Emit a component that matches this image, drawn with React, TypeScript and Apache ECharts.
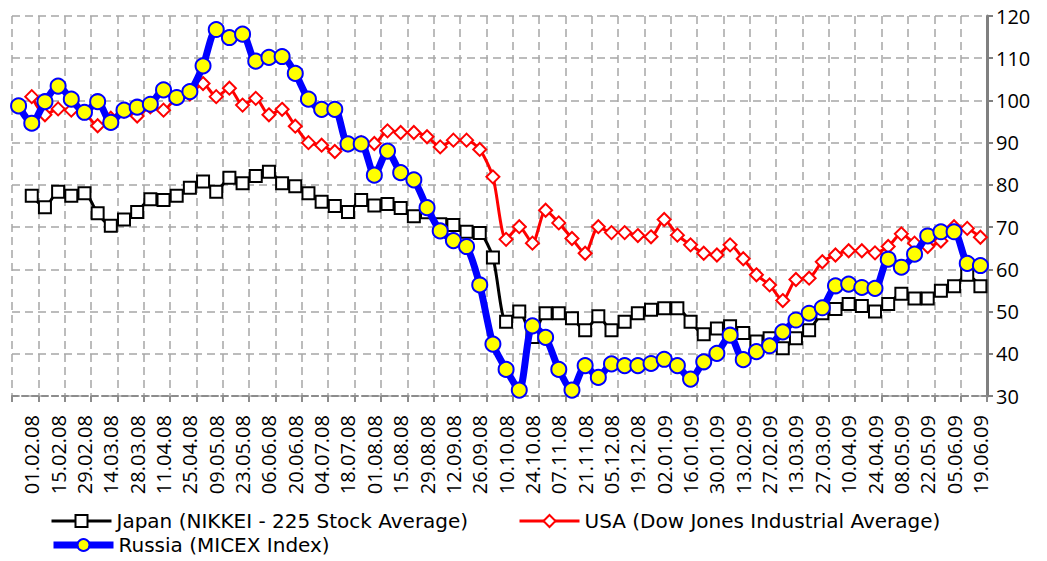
import React, { useEffect, useRef } from "react";
import * as echarts from "echarts";

const categories = [
  "25.01.08", "01.02.08", "08.02.08", "15.02.08", "22.02.08", "29.02.08", "07.03.08", "14.03.08", "21.03.08", "28.03.08",
  "04.04.08", "11.04.08", "18.04.08", "25.04.08", "02.05.08", "09.05.08", "16.05.08", "23.05.08", "30.05.08", "06.06.08",
  "13.06.08", "20.06.08", "27.06.08", "04.07.08", "11.07.08", "18.07.08", "25.07.08", "01.08.08", "08.08.08", "15.08.08",
  "22.08.08", "29.08.08", "05.09.08", "12.09.08", "19.09.08", "26.09.08", "03.10.08", "10.10.08", "17.10.08", "24.10.08",
  "31.10.08", "07.11.08", "14.11.08", "21.11.08", "28.11.08", "05.12.08", "12.12.08", "19.12.08", "26.12.08", "02.01.09",
  "09.01.09", "16.01.09", "23.01.09", "30.01.09", "06.02.09", "13.02.09", "20.02.09", "27.02.09", "06.03.09", "13.03.09",
  "20.03.09", "27.03.09", "03.04.09", "10.04.09", "17.04.09", "24.04.09", "01.05.09", "08.05.09", "15.05.09", "22.05.09",
  "29.05.09", "05.06.09", "12.06.09", "19.06.09",
];

const japan = [
  null, 77.4, 74.7, 78.4, 77.4, 78.0, 73.3, 70.3, 71.8, 73.6,
  76.6, 76.4, 77.4, 79.3, 80.8, 78.4, 81.7, 80.4, 82.1, 83.1,
  80.4, 79.7, 78.0, 76.0, 75.0, 73.6, 76.4, 75.1, 75.5, 74.5,
  72.6, 73.5, 70.7, 70.5, 68.9, 68.6, 62.8, 47.6, 50.0, 44.0,
  49.6, 49.6, 48.4, 45.6, 48.9, 45.6, 47.6, 49.6, 50.4, 50.8,
  50.8, 47.6, 44.6, 46.0, 46.5, 44.9, 42.9, 43.7, 41.3, 43.7,
  45.6, 49.6, 50.6, 51.8, 51.3, 50.0, 51.8, 54.2, 53.1, 53.1,
  54.9, 56.0, 58.7, 56.0,
];

const usa = [
  null, 100.9, 96.6, 98.0, 97.7, 97.1, 94.0, 95.8, 97.5, 96.3,
  98.5, 97.7, 100.8, 101.5, 104.0, 100.9, 102.9, 98.9, 100.5, 96.6,
  97.9, 93.9, 90.0, 89.4, 87.9, 89.5, 90.0, 89.8, 92.8, 92.4,
  92.4, 91.4, 89.0, 90.6, 90.6, 88.4, 81.9, 67.1, 70.1, 66.2,
  74.0, 71.0, 67.3, 63.8, 70.1, 68.7, 68.7, 68.0, 67.7, 71.8,
  68.1, 65.8, 63.8, 63.4, 65.8, 62.5, 58.7, 56.3, 52.6, 57.6,
  57.9, 61.8, 63.4, 64.4, 64.4, 63.9, 65.4, 68.4, 66.2, 65.4,
  66.7, 70.1, 69.7, 67.6,
];

const russia = [
  98.7, 94.6, 99.7, 103.4, 100.3, 97.2, 99.7, 94.8, 97.7, 98.4,
  99.1, 102.5, 100.7, 102.1, 108.2, 116.8, 114.9, 115.7, 109.3, 110.2,
  110.4, 106.4, 100.3, 97.9, 97.9, 89.7, 89.7, 82.3, 88.0, 82.9,
  81.2, 74.6, 69.1, 66.8, 65.4, 56.3, 42.3, 36.3, 31.4, 46.6,
  43.9, 36.3, 31.4, 37.2, 34.4, 37.6, 37.2, 37.2, 37.7, 38.7,
  37.2, 34.0, 38.1, 40.1, 44.4, 38.6, 40.5, 41.9, 45.2, 48.0,
  49.6, 50.9, 56.1, 56.5, 55.7, 55.5, 62.4, 60.5, 63.6, 67.9,
  68.9, 68.9, 61.4, 60.9,
];

const seriesNames = [
  "Japan (NIKKEI - 225 Stock Average)",
  "USA (Dow Jones Industrial Average)",
  "Russia (MICEX Index)",
];

const yMin = 30;
const yMax = 120;
const yStep = 10;

export default function App() {
  const ref = useRef<HTMLDivElement>(null);

  useEffect(() => {
    if (!ref.current) return;
    const chart = echarts.init(ref.current, null, { renderer: "svg" });
    const grid = "#a6a6a6";
    const legendText = { fontFamily: "DejaVu Sans", fontSize: 20, color: "#000" };
    const legendBase = { padding: 0, itemWidth: 60, itemHeight: 15, textStyle: legendText };
    chart.setOption({
      animation: false,
      backgroundColor: "#ffffff",
      grid: { left: 12, right: 60, top: 16, bottom: 165, containLabel: false },
      legend: [
        { ...legendBase, data: [seriesNames[0]], left: 50, top: 511, lineStyle: { width: 3 } },
        { ...legendBase, data: [seriesNames[1]], left: 518, top: 511, lineStyle: { width: 3 } },
        { ...legendBase, data: [seriesNames[2]], left: 50, top: 535, lineStyle: { width: 7 } },
      ],
      xAxis: {
        type: "category",
        data: categories,
        boundaryGap: true,
        axisLine: { show: true, lineStyle: { color: "#8c8c8c", width: 2, type: [6, 4] } },
        axisTick: {
          show: true,
          interval: (i: number) => i % 2 === 0,
          length: 6,
          lineStyle: { color: "#8c8c8c", width: 2 },
        },
        axisLabel: {
          interval: (i: number) => i % 2 === 1,
          rotate: 90,
          margin: 19,
          fontFamily: "Open Sans",
          fontSize: 20,
          color: "#000",
        },
        splitLine: {
          show: true,
          interval: (i: number) => i % 2 === 0,
          lineStyle: { color: grid, width: 1.5, type: [8, 5] },
        },
      },
      yAxis: {
        type: "value",
        position: "right",
        min: yMin,
        max: yMax,
        interval: yStep,
        axisLine: { show: true, lineStyle: { color: "#808080", width: 3 } },
        axisTick: { show: true, inside: false, length: 6, lineStyle: { color: "#808080", width: 2 } },
        axisLabel: { margin: 9, fontFamily: "Open Sans", fontSize: 20, color: "#000" },
        splitLine: { show: true, lineStyle: { color: grid, width: 1.5, type: [8, 5] } },
      },
      series: [
        {
          name: seriesNames[0],
          type: "line",
          data: japan,
          smooth: 0.25,
          symbol: "rect",
          symbolSize: 12,
          showAllSymbol: true,
          lineStyle: { color: "#000000", width: 3 },
          itemStyle: { color: "#ffffff", borderColor: "#000000", borderWidth: 2 },
          z: 2,
        },
        {
          name: seriesNames[1],
          type: "line",
          data: usa,
          smooth: 0.25,
          symbol: "diamond",
          symbolSize: 13,
          showAllSymbol: true,
          lineStyle: { color: "#ff0000", width: 3 },
          itemStyle: { color: "#ffffff", borderColor: "#ff0000", borderWidth: 2 },
          z: 3,
        },
        {
          name: seriesNames[2],
          type: "line",
          data: russia,
          smooth: 0.25,
          symbol: "circle",
          symbolSize: 15,
          showAllSymbol: true,
          lineStyle: { color: "#0000ff", width: 7 },
          itemStyle: { color: "#ffff00", borderColor: "#0000ff", borderWidth: 2 },
          z: 4,
        },
      ],
    });
    return () => chart.dispose();
  }, []);

  return (
    <div
      ref={ref}
      style={{ position: "fixed", left: 0, top: 0, width: 1047, height: 561, background: "#fff" }}
    />
  );
}
